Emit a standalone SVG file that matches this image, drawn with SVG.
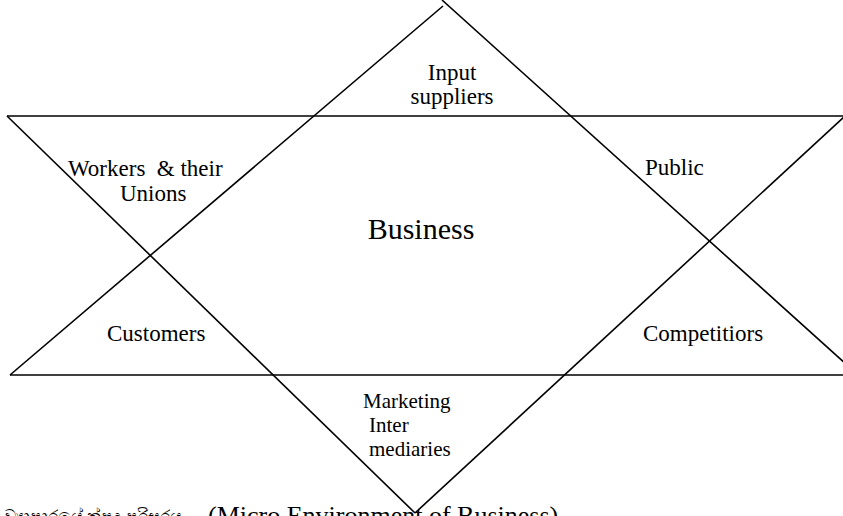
<svg xmlns="http://www.w3.org/2000/svg" width="843" height="516" viewBox="0 0 843 516">
<style>
.ln{stroke:#000;stroke-width:1.6;fill:none}
.t{font-family:"Liberation Serif","Times New Roman",serif;font-size:23px;fill:#000}
.s{font-size:21px}
.b{font-size:30px}
.cap{font-size:26px}
.si{font-size:17px}
</style>
<rect width="843" height="516" fill="#fff"/>
<g id="connectors">
<line class="ln" x1="7" y1="116" x2="843" y2="116"/>
<line class="ln" x1="7" y1="116" x2="415" y2="513"/>
<line class="ln" x1="845" y1="116" x2="415" y2="513"/>
<line class="ln" x1="10" y1="375" x2="843" y2="375"/>
<line class="ln" x1="10" y1="375" x2="443" y2="6"/>
<line class="ln" x1="442" y1="0" x2="857" y2="374"/>
</g>
<g id="input-suppliers">
<text class="t" x="452" y="80" text-anchor="middle">Input</text>
<text class="t" x="452" y="104" text-anchor="middle">suppliers</text>
</g>
<g id="workers">
<text class="t" x="68" y="176" xml:space="preserve">Workers  &amp; their</text>
<text class="t" x="120" y="201">Unions</text>
</g>
<g id="public">
<text class="t" x="645" y="175">Public</text>
</g>
<g id="business">
<text class="t b" x="421" y="239" text-anchor="middle">Business</text>
</g>
<g id="customers">
<text class="t" x="107" y="341">Customers</text>
</g>
<g id="competitors">
<text class="t" x="643" y="341">Competitiors</text>
</g>
<g id="marketing">
<text class="t s" x="363" y="408">Marketing</text>
<text class="t s" x="369" y="432">Inter</text>
<text class="t s" x="369" y="456">mediaries</text>
</g>
<g id="caption">
<text class="t si" x="4" y="522" textLength="178" lengthAdjust="spacingAndGlyphs" font-family="'Noto Sans Sinhala','Liberation Serif',serif">ව්‍යාපාරයේ ක්ෂුද්‍ර පරිසරය</text>
<text class="t cap" x="208" y="524">(Micro Environment of Business)</text>
</g>
</svg>
